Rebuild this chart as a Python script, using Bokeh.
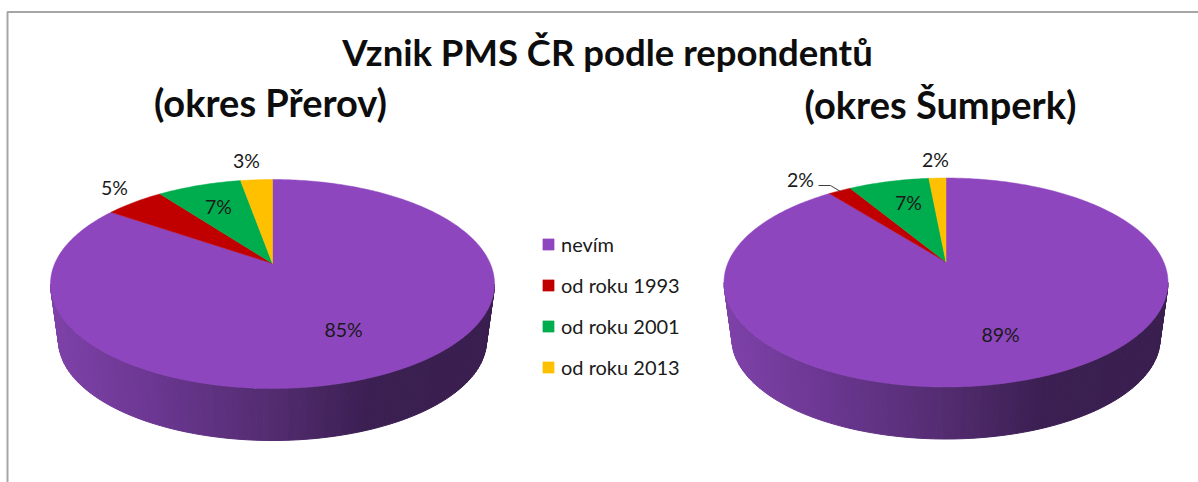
import numpy as np
from bokeh.plotting import figure
from bokeh.models import Legend, LegendItem, Range1d
from bokeh.core.properties import value
from bokeh.embed import file_html
from bokeh.resources import INLINE

# ---- data ----
categories = ["nevím", "od roku 1993", "od roku 2001", "od roku 2013"]
prerov_values = [84.6, 5.2, 7.4, 2.8]
sumperk_values = [89.4, 2.0, 7.1, 1.5]
prerov_labels = ["85%", "5%", "7%", "3%"]
sumperk_labels = ["89%", "2%", "7%", "2%"]
colors = ["#8E46BF", "#C00000", "#00AD4E", "#FFC000"]
title_text = "Vznik PMS ČR podle repondentů"
sub_left = "(okres Přerov)"
sub_right = "(okres Šumperk)"

FONT = value("Lato")
K, C, A, H = 217.7, 0.196, -48.9, 263.0      # perspective of the pie's top face


def slices(vals, cx, cy):
    total = sum(vals)
    out, start = [], 0.0
    for val in vals:
        end = start + val / total
        n = max(3, int(val * 4))
        th = 2 * np.pi * np.linspace(start, end, n)
        u, v = np.sin(th), np.cos(th)
        d = 1 + C * v
        xs = cx + K * u / d
        ys = cy + (A * v + H) / d - H
        out.append(([cx] + xs.tolist(), [cy] + ys.tolist()))
        start = end
    return out


APEX = [(272, 263), (945.5, 261.5)]

p = figure(width=1198, height=482, output_backend="svg", toolbar_location=None,
           x_range=Range1d(0, 1198), y_range=Range1d(482, 0),
           min_border=0, outline_line_color=None, background_fill_color="white")
p.axis.visible = False
p.grid.visible = False

# chart frame
p.line([1198, 7, 7], [11.5, 11.5, 482], line_color="#A6A6A6", line_width=2)


def hex2rgb(h):
    return np.array([int(h[i:i + 2], 16) for i in (1, 3, 5)], float)


stops_x = [-217, -120, 0, 95, 218]
stops_c = [hex2rgb(c) for c in ("#7E41A8", "#6B3792", "#532C70", "#3B1F52", "#391E4F")]

# side wall: belongs to the front slice (first category)
for (cx, cy) in APEX:
    ecy, wcy = cy + 20.5, cy + 77
    phi = np.linspace(np.pi, 0, 110)
    xs_all, ys_all, cols = [], [], []
    for a, b in zip(phi[:-1], phi[1:]):
        qx = [cx + 222 * np.cos(a), cx + 222 * np.cos(b), cx + 214 * np.cos(b), cx + 214 * np.cos(a)]
        qy = [ecy + 104.5 * np.sin(a), ecy + 104.5 * np.sin(b), wcy + 100 * np.sin(b), wcy + 100 * np.sin(a)]
        mid = (np.cos(a) + np.cos(b)) / 2 * 218
        rgb = [np.interp(mid, stops_x, [c[i] for c in stops_c]) for i in range(3)]
        col = "#%02x%02x%02x" % tuple(int(round(x)) for x in rgb)
        xs_all.append(qx)
        ys_all.append(qy)
        cols.append(col)
    p.patches(xs_all, ys_all, fill_color=cols, line_color=cols, line_width=1)

# top faces: one renderer per category, holding its slice of both pies
left = slices(prerov_values, *APEX[0])
right = slices(sumperk_values, *APEX[1])
items = []
for i, name in enumerate(categories):
    r = p.patches([left[i][0], right[i][0]], [left[i][1], right[i][1]],
                  fill_color=colors[i], line_color=colors[i], line_width=0.5)
    items.append(LegendItem(label=name, renderers=[r]))

legend = Legend(items=items, location=(541, 103), orientation="vertical",
                background_fill_alpha=0, border_line_color=None,
                glyph_width=14, glyph_height=14, spacing=17, padding=0, margin=0,
                label_text_font="Lato", label_text_font_size="20px", label_text_color="#1a1a1a",
                label_standoff=6, label_height=15)
p.add_layout(legend, "center")

# leader line of the small slice
p.line([818, 830, 840], [185, 185, 191], line_color="#404040", line_width=1)

# data labels
lab_x = [343, 114, 218, 246]
lab_y = [329, 187, 206, 160]
lab_x2 = [1000, 800, 908, 935]
lab_y2 = [334, 179, 202, 159]
p.text(lab_x + lab_x2, lab_y + lab_y2, text=prerov_labels + sumperk_labels,
       text_font=FONT, text_font_size="19.5px", text_color="#1a1a1a",
       text_align="center", text_baseline="middle")

# titles
p.text([607], [51], text=[title_text], text_font=FONT, text_font_style="bold",
       text_font_size="36.5px", text_color="#0d0d0d", text_align="center", text_baseline="middle")
p.text([270, 940], [101, 103], text=[sub_left, sub_right], text_font=FONT, text_font_style="bold",
       text_font_size="38px", text_color="#0d0d0d", text_align="center", text_baseline="middle")

open("out.html", "w").write(file_html(p, INLINE))
